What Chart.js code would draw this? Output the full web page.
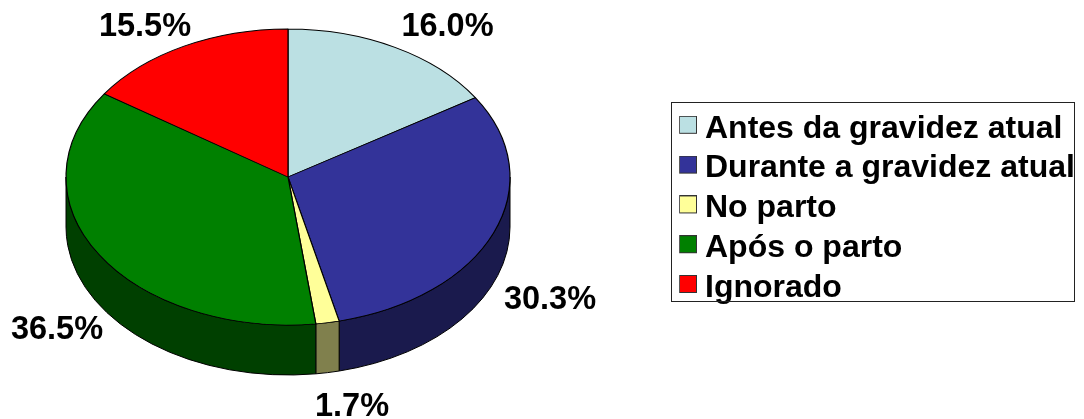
<!DOCTYPE html>
<html>
<head>
<meta charset="utf-8">
<style>html,body{margin:0;padding:0;background:#fff}canvas{display:block}</style>
<script src="https://cdn.jsdelivr.net/npm/chart.js@4/dist/chart.umd.js"></script>
</head>
<body>
<canvas id="c" width="1084" height="419"></canvas>
<script>
const categories = ['Antes da gravidez atual','Durante a gravidez atual','No parto','Após o parto','Ignorado'];
const shares = [16.0,30.3,1.7,36.5,15.5];
const topColors = ['#BBE0E3','#333399','#FFFF99','#008000','#FF0000'];
const wallColors = ['#5E7072','#1A1A4D','#80804D','#004000','#800000'];
const labelCentres = [[447.5,27.5],[550,300],[352,407],[57,330.5],[145,27]];

const CX = 288, CY = 177, RX = 222, RY = 148, DEPTH = 50;
const FONT = '"Liberation Sans", Arial, sans-serif';
const TAU = Math.PI * 2;

function swatch(color) {
  const c = document.createElement('canvas');
  c.width = 18; c.height = 26;
  const g = c.getContext('2d');
  g.fillStyle = color;
  g.fillRect(0.5, 0.5, 17, 17);
  g.strokeStyle = '#333';
  g.lineWidth = 1;
  g.strokeRect(0.5, 0.5, 17, 17);
  return c;
}

const pie3d = {
  id: 'pie3d',
  afterLayout(chart) {
    const lg = chart.legend;
    lg.left = 687 - lg.options.labels.padding;
    lg.top = 105;
  },
  beforeDatasetsDraw(chart) {
    const ctx = chart.ctx;
    const arcs = chart.getDatasetMeta(0).data;
    ctx.save();
    ctx.lineWidth = 1;
    ctx.strokeStyle = '#000';
    arcs.forEach((arc, i) => {
      const {startAngle, endAngle} = arc.getProps(['startAngle','endAngle'], true);
      const ranges = [[startAngle, endAngle],[startAngle + TAU, endAngle + TAU],[startAngle - TAU, endAngle - TAU]];
      ranges.forEach(([s, e]) => {
        const a0 = Math.max(s, 0), a1 = Math.min(e, Math.PI);
        if (a1 <= a0) return;
        ctx.beginPath();
        ctx.ellipse(CX, CY + DEPTH, RX, RY, 0, a0, a1);
        ctx.lineTo(CX + RX * Math.cos(a1), CY + RY * Math.sin(a1));
        ctx.ellipse(CX, CY, RX, RY, 0, a1, a0, true);
        ctx.closePath();
        ctx.fillStyle = wallColors[i];
        ctx.fill();
        ctx.stroke();
      });
    });
    ctx.restore();
    const el = arcs[0];
    ctx.save();
    ctx.translate(CX, CY);
    ctx.scale(1, RY / RX);
    ctx.translate(-el.x, -el.y);
  },
  afterDatasetsDraw(chart) {
    chart.ctx.restore();
  },
  afterDraw(chart) {
    const ctx = chart.ctx;
    ctx.save();
    ctx.lineWidth = 1;
    ctx.strokeStyle = '#222';
    ctx.strokeRect(671.5, 102.5, 403, 199);
    ctx.fillStyle = '#000';
    ctx.font = 'bold 32.5px ' + FONT;
    ctx.textAlign = 'center';
    ctx.textBaseline = 'middle';
    shares.forEach((v, i) => {
      ctx.fillText(v.toFixed(1) + '%', labelCentres[i][0], labelCentres[i][1]);
    });
    ctx.restore();
  }
};

new Chart(document.getElementById('c'), {
  type: 'pie',
  data: {
    labels: categories,
    datasets: [{
      data: shares,
      backgroundColor: topColors,
      borderColor: '#000',
      borderWidth: 1.2,
      hoverOffset: 0
    }]
  },
  options: {
    responsive: false,
    animation: false,
    radius: RX,
    plugins: {
      tooltip: {enabled: false},
      legend: {
        display: true,
        position: 'right',
        align: 'start',
        labels: {
          color: '#000',
          font: {family: FONT, size: 32, weight: 'bold'},
          usePointStyle: true,
          boxWidth: 2,
          boxHeight: 16,
          padding: 7.8,
          generateLabels(chart) {
            return categories.map((t, i) => ({
              text: t, fillStyle: topColors[i], strokeStyle: '#333', lineWidth: 1,
              pointStyle: swatch(topColors[i]), index: i, hidden: false
            }));
          }
        }
      }
    }
  },
  plugins: [pie3d]
});
</script>
</body>
</html>
